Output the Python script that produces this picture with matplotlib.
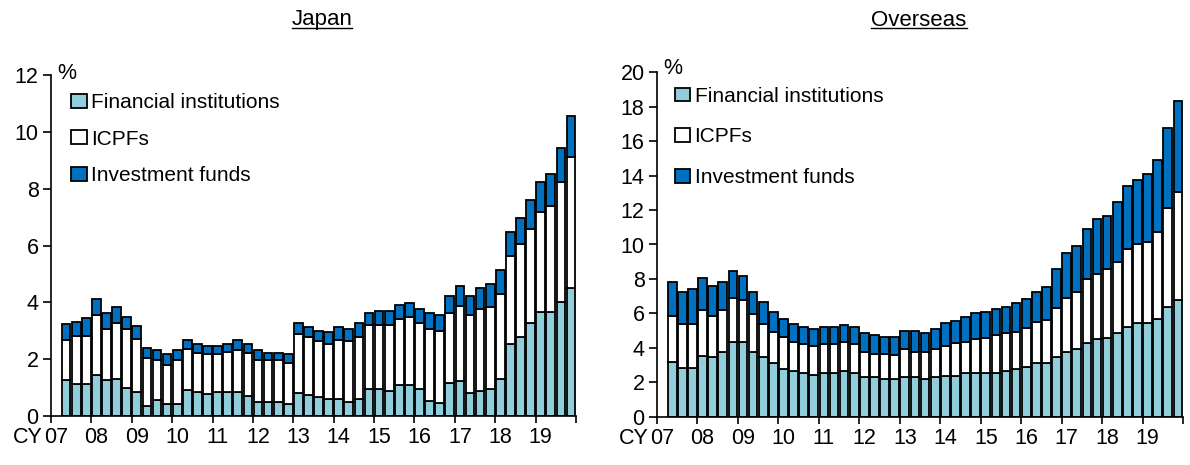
import matplotlib
matplotlib.use("Agg")
import matplotlib.pyplot as plt
import numpy as np
from matplotlib.lines import Line2D

plt.rcParams['font.family'] = ['Liberation Sans', 'DejaVu Sans']

# Quarterly, 2007Q2 - 2019Q4 (x index 0 = 2007Q1, left empty)
years = ["07", "08", "09", "10", "11", "12", "13", "14", "15", "16", "17", "18", "19"]
labels = ["Financial institutions", "ICPFs", "Investment funds"]

japan_fi = [1.25, 1.11, 1.11, 1.46, 1.25, 1.31, 0.97, 0.85, 0.35, 0.55, 0.41, 0.41, 0.90,
            0.85, 0.76, 0.85, 0.85, 0.85, 0.70, 0.50, 0.50, 0.50, 0.41, 0.82, 0.74, 0.68,
            0.60, 0.60, 0.48, 0.60, 0.95, 0.95, 0.88, 1.09, 1.09, 0.95, 0.53, 0.44, 1.15,
            1.23, 0.82, 0.88, 0.95, 1.29, 2.55, 2.79, 3.26, 3.67, 3.67, 4.02, 4.51]
japan_icpf = [1.41, 1.70, 1.70, 2.08, 1.82, 1.97, 2.10, 1.87, 1.68, 1.41, 1.40, 1.55, 1.47,
              1.37, 1.41, 1.32, 1.41, 1.46, 1.52, 1.46, 1.46, 1.46, 1.46, 2.08, 2.05, 1.95,
              1.95, 2.09, 2.15, 2.19, 2.25, 2.25, 2.32, 2.31, 2.38, 2.31, 2.54, 2.55, 2.46,
              2.65, 2.72, 2.87, 2.87, 3.00, 3.07, 3.28, 3.33, 3.51, 3.72, 4.20, 4.62]
japan_if = [0.56, 0.49, 0.63, 0.59, 0.56, 0.56, 0.42, 0.44, 0.36, 0.35, 0.36, 0.35, 0.29,
            0.30, 0.29, 0.29, 0.26, 0.35, 0.30, 0.35, 0.26, 0.26, 0.30, 0.38, 0.35, 0.36,
            0.41, 0.45, 0.43, 0.47, 0.41, 0.50, 0.50, 0.50, 0.49, 0.49, 0.54, 0.55, 0.63,
            0.69, 0.70, 0.76, 0.84, 0.86, 0.86, 0.91, 1.02, 1.05, 1.13, 1.22, 1.42]

overseas_fi = [3.19, 2.85, 2.85, 3.54, 3.45, 3.78, 4.36, 4.36, 3.78, 3.45, 3.10, 2.77, 2.65,
               2.52, 2.42, 2.52, 2.52, 2.65, 2.52, 2.28, 2.28, 2.19, 2.19, 2.28, 2.28, 2.17,
               2.28, 2.38, 2.38, 2.56, 2.56, 2.56, 2.56, 2.65, 2.75, 2.87, 3.10, 3.10, 3.45,
               3.78, 3.91, 4.26, 4.49, 4.59, 4.84, 5.23, 5.42, 5.42, 5.65, 6.35, 6.78]
overseas_icpf = [2.66, 2.51, 2.51, 2.66, 2.40, 2.42, 2.55, 2.42, 2.18, 1.93, 1.84, 1.88, 1.71,
                 1.68, 1.68, 1.68, 1.68, 1.71, 1.68, 1.50, 1.36, 1.45, 1.39, 1.63, 1.50, 1.61,
                 1.63, 1.74, 1.88, 1.80, 1.93, 2.03, 2.18, 2.19, 2.19, 2.30, 2.42, 2.51, 2.88,
                 3.13, 3.31, 3.72, 3.78, 3.97, 4.16, 4.49, 4.59, 4.74, 5.10, 5.75, 6.25]
overseas_if = [1.99, 1.90, 2.04, 1.87, 1.74, 1.64, 1.55, 1.41, 1.30, 1.30, 1.16, 1.00, 1.02,
               0.99, 0.97, 0.99, 0.99, 0.94, 0.99, 1.06, 1.10, 1.01, 1.07, 1.07, 1.20, 1.06,
               1.16, 1.30, 1.30, 1.45, 1.51, 1.51, 1.49, 1.55, 1.64, 1.66, 1.74, 1.90, 2.23,
               2.58, 2.71, 2.90, 3.19, 3.11, 3.49, 3.70, 3.74, 3.94, 4.16, 4.65, 5.32]

colors = ["#92CDDC", "#FFFFFF", "#0070C0"]

fig = plt.figure(figsize=(11.9, 4.65), dpi=100)
ax1 = fig.add_axes([51/1190, 49/465, 525/1190, 341/465])
ax2 = fig.add_axes([657/1190, 48.3/465, 526/1190, 344.4/465])

FS = 15.5
LFS = 15
TFS = 16

def draw(ax, fi, icpf, inv, ymax, ystep, legend_anchor, lspace, pct_y):
    n = len(fi)
    x = np.arange(1, n + 1)
    fi = np.array(fi); icpf = np.array(icpf); inv = np.array(inv)
    kw = dict(width=0.86, edgecolor="black", linewidth=1.3)
    ax.bar(x, fi, color=colors[0], label=labels[0], **kw)
    ax.bar(x, icpf, bottom=fi, color=colors[1], label=labels[1], **kw)
    ax.bar(x, inv, bottom=fi + icpf, color=colors[2], label=labels[2], **kw)
    total = n + 1
    ax.set_xlim(-0.5, total - 0.5)
    ax.set_ylim(0, ymax)
    ax.set_yticks(np.arange(0, ymax + 0.1, ystep))
    ax.set_yticklabels([str(int(v)) for v in np.arange(0, ymax + 0.1, ystep)], fontsize=FS)
    ax.set_xticks(np.arange(-0.5, total, 4))
    ax.set_xticklabels([])
    ax.set_xticks(np.arange(0, total, 4), minor=True)
    ax.set_xticklabels(years, minor=True, fontsize=FS)
    ax.tick_params(axis="x", which="major", length=5, width=1.2, direction="out")
    ax.tick_params(axis="x", which="minor", length=0, pad=8)
    ax.tick_params(axis="y", length=6, width=1.2, direction="out", pad=3)
    for s in ["top", "right"]:
        ax.spines[s].set_visible(False)
    ax.spines["left"].set_linewidth(1.2)
    ax.spines["bottom"].set_linewidth(1.2)
    ax.text(0.012, pct_y, "%", transform=ax.transAxes, fontsize=FS, ha="left", va="center")
    ax.legend(loc="upper left", bbox_to_anchor=legend_anchor, frameon=False,
              fontsize=LFS, handlelength=0.75, handleheight=0.65, handletextpad=0.2,
              labelspacing=lspace, borderaxespad=0)
    return ax

draw(ax1, japan_fi, japan_icpf, japan_if, 12, 2, (0.022, 0.972), 0.85, 1.005)
draw(ax2, overseas_fi, overseas_icpf, overseas_if, 20, 2, (0.018, 0.982), 1.04, 1.012)

t1 = fig.text(322/1190, 1 - 20/465, "Japan", fontsize=TFS, ha="center", va="center")
t2 = fig.text(919/1190, 1 - 20/465, "Overseas", fontsize=TFS, ha="center", va="center")

fig.canvas.draw()
r = fig.canvas.get_renderer()
inv_fig = fig.transFigure.inverted()
for t in (t1, t2):
    bb = t.get_window_extent(r).transformed(inv_fig)
    y = bb.y0 + 0.006
    fig.add_artist(Line2D([bb.x0, bb.x1], [y, y], transform=fig.transFigure,
                          color="black", linewidth=1.0))

for ax in (ax1, ax2):
    lab = ax.xaxis.get_minorticklabels()[0]
    bb = lab.get_window_extent(r).transformed(inv_fig)
    fig.text(bb.x0 - 0.001, (bb.y0 + bb.y1) / 2, "CY", fontsize=FS, ha="right", va="center")

fig.savefig("out.png", dpi=100)
